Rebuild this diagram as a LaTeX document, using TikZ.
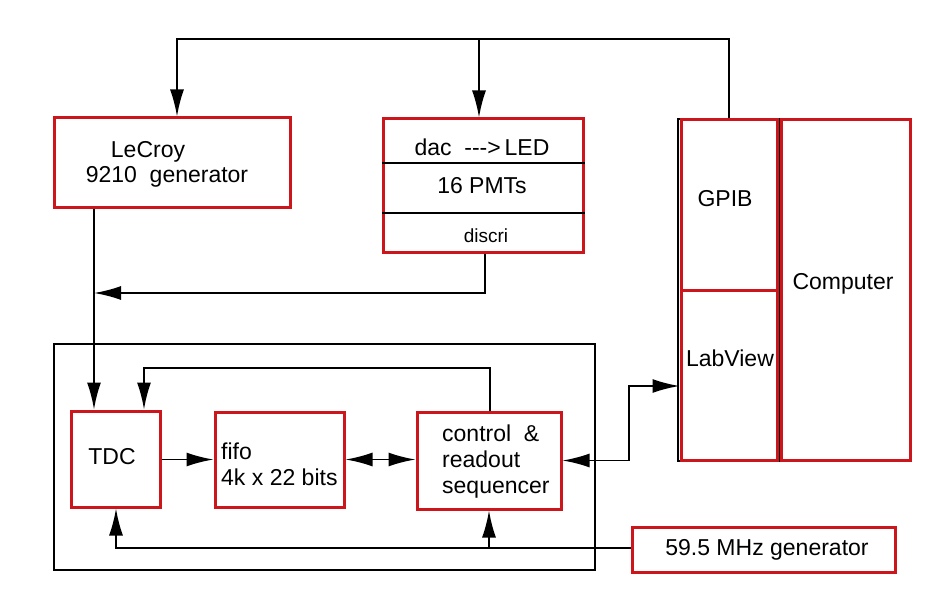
\documentclass[tikz,border=0pt]{standalone}
\usepackage{fontspec}
\setmainfont{Liberation Sans}
\usetikzlibrary{arrows.meta}
\definecolor{boxred}{RGB}{205,22,28}
\begin{document}
\begin{tikzpicture}[x=1pt,y={(0pt,-1pt)},
  font=\fontsize{23}{26}\selectfont,
  >={Latex[length=27pt,width=14pt]},
  wire/.style={draw=black,line width=1.9pt},
  rbox/.style={draw=boxred,line width=3pt,inner sep=0pt,rectangle},
  kbox/.style={draw=black,line width=1.9pt,inner sep=0pt,rectangle},
  txt/.style={inner sep=0pt}]
\useasboundingbox (0,0) rectangle (951,599);

% black frame under GPIB / LabView
\draw[line width=1.9pt] (678,119) rectangle (779,461);

% boxes
\node[rbox,minimum width=236pt,minimum height=89pt] (lecroy) at (172,162.5) {};
\node[rbox,minimum width=200pt,minimum height=133pt] (dac) at (483,185.5) {};
\node[rbox,minimum width=96pt,minimum height=170pt] (gpib) at (729,205) {};
\node[rbox,minimum width=96pt,minimum height=170pt] (labview) at (729,375) {};
\node[rbox,minimum width=129pt,minimum height=340pt] (computer) at (845.5,290) {};
\node[kbox,minimum width=541pt,minimum height=226pt] (outer) at (324.5,457) {};
\node[rbox,minimum width=89pt,minimum height=96pt] (tdc) at (115.5,459) {};
\node[rbox,minimum width=129pt,minimum height=95pt] (fifo) at (279.5,459.5) {};
\node[rbox,minimum width=144pt,minimum height=97pt] (ctrl) at (489,460.5) {};
\node[rbox,minimum width=263pt,minimum height=45pt] (gen) at (763.5,549.5) {};

% dac dividers
\draw[wire] (dac.west |- 0,163) -- (dac.east |- 0,163);
\draw[wire] (dac.west |- 0,213) -- (dac.east |- 0,213);

% texts
\node[txt] (lecroyA) at (148,152) {LeCroy};
\node[txt] (lecroyB) at (167,177) {9210\ \ generator};
\node[txt] (dacT) at (482,147) {dac\ \ -{}-{}->\,LED};
\node[txt] (pmt) at (482,186) {16 PMTs};
\node[txt,font=\fontsize{19}{22}\selectfont] (disc) at (486,236) {discri};
\node[txt] (gpibT) at (725,199) {GPIB};
\node[txt] (lvT) at (730,358) {LabView};
\node[txt] (compT) at (843,284) {Computer};
\node[txt] (tdcT) at (112,457) {TDC};
\node[txt,anchor=west,align=left] (fifoT) at (221,464.5) {fifo\\4k x 22 bits};
\node[txt,anchor=west,align=left] (ctrlT) at (442,462) {control\ \ \&\\readout\\sequencer};
\node[txt] (genT) at (767,550) {59.5 MHz generator};

% coordinates
\coordinate (topL) at (177,39);
\coordinate (topM) at (479,39);
\coordinate (dacx) at (485,0);
\coordinate (jL) at (94,293);
\coordinate (fbL) at (144,368);
\coordinate (fbR) at (490,368);
\coordinate (lvB) at (629,386);
\coordinate (bL) at (116,548);

% connectors
\draw[wire,->] (gpib.north) -- (gpib.north |- topL) -- (topL) -- (topL |- lecroy.north);
\draw[wire,->] (topM) -- (topM |- dac.north);
\draw[wire,->] (dac.south -| dacx) |- (jL);
\draw[wire,->] (lecroy.south -| jL) -- (tdc.north -| jL);
\draw[wire,->] (ctrl.north -| fbR) -- (fbR) -- (fbL) -- (fbL |- tdc.north);
\draw[wire,->] (tdc.east |- fifo.west) -- (fifo.west);
\draw[wire,<->] (fifo.east) -- (fifo.east -| ctrl.west);
\draw[wire,<->] (ctrl.east) -| (lvB) -- (lvB -| labview.west);
\draw[wire,->] (gen.west |- bL) -- (bL) -- (bL |- tdc.south);
\draw[wire,->] (ctrl.south |- bL) -- (ctrl.south);
\end{tikzpicture}
\end{document}
